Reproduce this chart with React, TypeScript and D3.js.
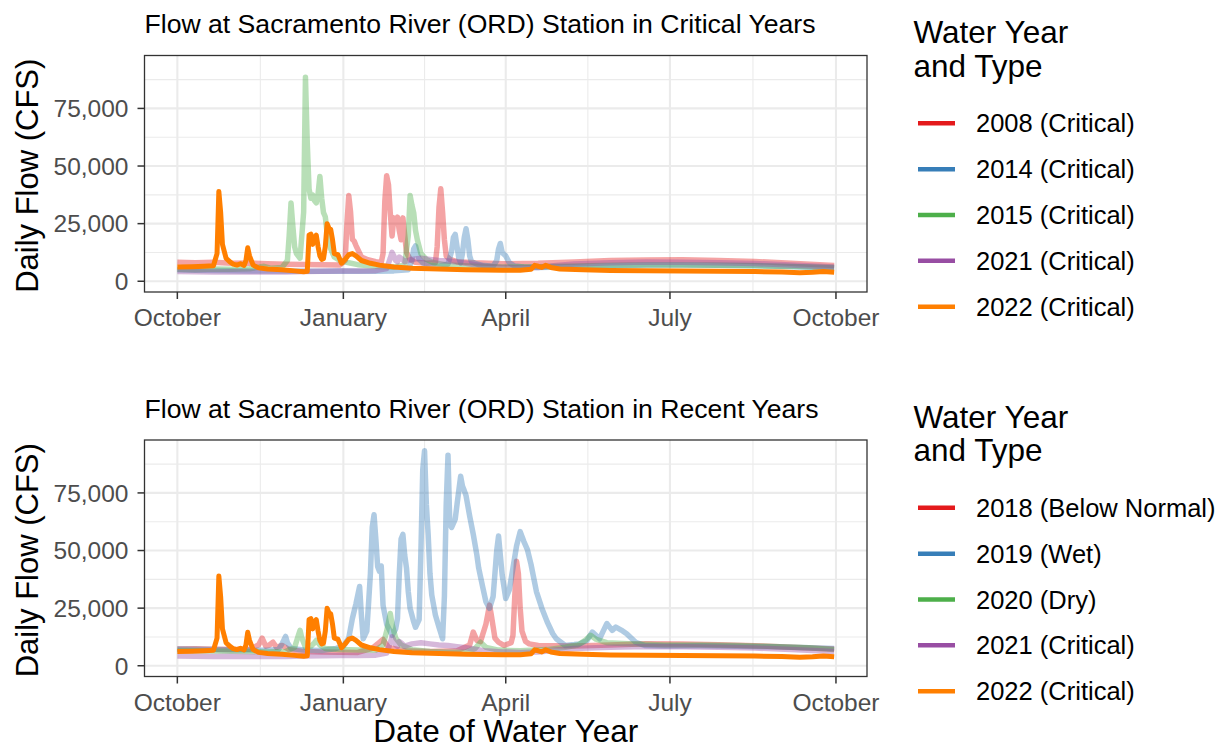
import React from 'react';
import * as d3 from 'd3';

type Pt = [number, number]; // [day of water year (0 = Oct 1), daily flow in CFS]

// ---------- data ----------
const FLOW_2008: Pt[] = [[0,8300],[10,8000],[20,8200],[30,7800],[40,7900],[50,7600],[60,7400],[70,7300],[80,7200],[90,7000],[93,9000],[94,25000],[95,37200],[96,30000],[97,18200],[98,17400],[99,15500],[100,13800],[102,10500],[105,9500],[110,8500],[113,8200],[114,12000],[115,35000],[116,45800],[117,42000],[118,29700],[119,19600],[120,27500],[121,26000],[122,27800],[123,22000],[124,18000],[125,27500],[126,20000],[127,12500],[129,9500],[132,8200],[138,7800],[143,8000],[144,15000],[145,32000],[146,40100],[147,30000],[148,18000],[149,11000],[151,9500],[155,8500],[165,8000],[180,7600],[200,7800],[220,8400],[240,9000],[260,9200],[280,9300],[300,9000],[320,8600],[340,7800],[364,6800]];
const FLOW_2014: Pt[] = [[0,5000],[10,4800],[20,4700],[30,4600],[40,4500],[50,4500],[60,4400],[70,4300],[80,4300],[90,4400],[100,4300],[110,4300],[120,4500],[128,5000],[130,9000],[131,14000],[132,15300],[133,12000],[134,9500],[136,8000],[140,7000],[145,6500],[150,7500],[152,13000],[153,19000],[154,20300],[155,15000],[156,10000],[157,8000],[158,12000],[159,19000],[160,22800],[161,18000],[162,11000],[163,8500],[166,7500],[170,6800],[175,6500],[177,9000],[178,14000],[179,16400],[180,12500],[181,11700],[182,11000],[184,8000],[187,6600],[192,6200],[200,6000],[220,6300],[240,6700],[260,7000],[280,7000],[300,6900],[320,6800],[340,6400],[364,5800]];
const FLOW_2015: Pt[] = [[0,5200],[10,5000],[20,5300],[30,5200],[40,5400],[48,6500],[52,5600],[58,6000],[61,9000],[62,20000],[63,34000],[64,24000],[65,15000],[66,12000],[68,10000],[70,30000],[71,88500],[72,60000],[73,40000],[74,36000],[75,37500],[76,35000],[77,34000],[78,38000],[79,45500],[80,36000],[81,29800],[82,28000],[83,21000],[85,14000],[87,10500],[90,9000],[95,8000],[100,7200],[110,6500],[120,6200],[126,7000],[128,20000],[129,37200],[130,33000],[131,29700],[132,22000],[133,18000],[135,12000],[138,9500],[142,8000],[150,7000],[165,6500],[180,6200],[200,6300],[220,6600],[240,6900],[260,7100],[280,7000],[300,6900],[320,6700],[340,6400],[364,6000]];
const FLOW_2018: Pt[] = [[0,7300],[10,7400],[20,7200],[30,7000],[40,7200],[45,9000],[47,12000],[49,8500],[51,9000],[53,10200],[55,8000],[58,8800],[62,7000],[70,6200],[80,6000],[90,5900],[100,5800],[108,7500],[111,9500],[114,11400],[117,8000],[125,6500],[140,6200],[155,6500],[162,9000],[164,14600],[166,11000],[168,10500],[171,18000],[173,26300],[174,22000],[176,12000],[178,10200],[181,8800],[185,10000],[186,13200],[187,30000],[188,45300],[189,40000],[190,25000],[191,15000],[193,10500],[195,9500],[200,8800],[220,8600],[240,9000],[260,9500],[280,9400],[300,9100],[320,8700],[340,8000],[364,7300]];
const FLOW_2019: Pt[] = [[0,7300],[10,7200],[20,7000],[30,6900],[40,6800],[50,6700],[56,7000],[58,9500],[60,12700],[61,10000],[63,7500],[70,6800],[80,6600],[88,7500],[92,8500],[95,12000],[97,20500],[99,27000],[101,34400],[102,22000],[103,11700],[105,15000],[107,40000],[108,60000],[109,65500],[110,55000],[111,43100],[112,41000],[113,43300],[114,26300],[116,18000],[119,13200],[121,16000],[122,20500],[123,40000],[124,55000],[125,57000],[126,48000],[127,42400],[128,32000],[129,24900],[131,19000],[132,16700],[134,20000],[135,50000],[136,85000],[137,93300],[138,70000],[139,57000],[140,40000],[141,30700],[143,22000],[145,16700],[147,11700],[148,30000],[149,70000],[150,91400],[151,61400],[152,60000],[154,63600],[155,70000],[157,82200],[158,78000],[159,76000],[160,73800],[162,65000],[164,57000],[166,48000],[167,42400],[169,35000],[171,27800],[173,24900],[175,30000],[177,50000],[178,56300],[180,39500],[182,29200],[184,33000],[186,42400],[188,52000],[190,58200],[192,54000],[194,50400],[196,44000],[199,32200],[202,25000],[205,19000],[208,14000],[210,11700],[215,8800],[220,9200],[223,9500],[227,11000],[230,14600],[234,11700],[236,15000],[238,18300],[241,15350],[243,16800],[246,15500],[249,13900],[254,10200],[259,8800],[270,8600],[290,8700],[310,8500],[330,8200],[350,7800],[364,7500]];
const FLOW_2020: Pt[] = [[0,6600],[10,6500],[20,6400],[30,6300],[40,6200],[50,6000],[60,6200],[65,8000],[67,13000],[68,15350],[69,12000],[71,8000],[74,8500],[76,10000],[77,11000],[79,9000],[82,7500],[90,7000],[100,6800],[110,6700],[114,9000],[116,15000],[118,22700],[119,18000],[121,12000],[124,9000],[130,7000],[140,6200],[150,5900],[160,6000],[165,7500],[168,10200],[171,8000],[178,6800],[190,6500],[205,7000],[215,8000],[222,9000],[226,11000],[229,13200],[232,11500],[238,10000],[250,9500],[270,9000],[290,9000],[310,8800],[330,8400],[350,7800],[364,7000]];
const FLOW_2021: Pt[] = [[0,4200],[10,4100],[20,4000],[30,4100],[40,4000],[50,4100],[60,4000],[70,4200],[80,4300],[90,4400],[100,4500],[110,4600],[116,5500],[118,10000],[119,12500],[120,11000],[121,9000],[122,8500],[123,10500],[124,10000],[126,8500],[130,9500],[135,10000],[140,9500],[145,9000],[150,8800],[155,8300],[160,7800],[165,7200],[170,6500],[180,6000],[190,5800],[200,6000],[210,6800],[220,7500],[240,8000],[260,8300],[280,8200],[300,8000],[320,7700],[340,7000],[364,6200]];
const FLOW_2022: Pt[] = [[0,6200],[8,6300],[15,6500],[20,6700],[22,12000],[23,39000],[24,30000],[25,16000],[27,10000],[29,8500],[31,7400],[33,7000],[35,7600],[37,6900],[38,9000],[39,14500],[40,11000],[42,7000],[45,5800],[50,5300],[58,5000],[65,4500],[70,4100],[72,4300],[73,20000],[74,20500],[75,16000],[76,19000],[77,20000],[78,15000],[79,11000],[80,9500],[81,9800],[82,15000],[83,25000],[84,23000],[85,22500],[86,18000],[87,12000],[89,11500],[91,7800],[93,9500],[95,11500],[97,12000],[99,11000],[102,9000],[107,7800],[112,7000],[120,6200],[130,5600],[140,5400],[150,5200],[160,5000],[170,4900],[180,4800],[190,4800],[196,5200],[198,6900],[200,6500],[202,6000],[204,6900],[207,6000],[212,5300],[225,5000],[240,4700],[260,4600],[280,4400],[300,4300],[320,4200],[335,4000],[345,3700],[352,3900],[358,4200],[364,3900]];

const FLOWS: Record<string, Pt[]> = {
  '2008': FLOW_2008, '2014': FLOW_2014, '2015': FLOW_2015, '2018': FLOW_2018,
  '2019': FLOW_2019, '2020': FLOW_2020, '2021': FLOW_2021, '2022': FLOW_2022,
};

const TOP_YEARS = ['2008', '2014', '2015', '2021', '2022'];
const TOP_LABELS = ['2008 (Critical)', '2014 (Critical)', '2015 (Critical)', '2021 (Critical)', '2022 (Critical)'];
const BOTTOM_YEARS = ['2018', '2019', '2020', '2021', '2022'];
const BOTTOM_LABELS = ['2018 (Below Normal)', '2019 (Wet)', '2020 (Dry)', '2021 (Critical)', '2022 (Critical)'];
const PALETTE = ['#E41A1C', '#377EB8', '#4DAF4A', '#984EA3', '#FF7F00'];
const HIGHLIGHT = '2022';

const X_TICK_DATES = ['2021-10-01', '2022-01-01', '2022-04-01', '2022-07-01', '2022-10-01'];
const X_TICK_LABELS = ['October', 'January', 'April', 'July', 'October'];
const Y_TICKS = [0, 25000, 50000, 75000];
const Y_LIMITS = [0, 93300];

const TOP_TITLE = 'Flow at Sacramento River (ORD) Station in Critical Years';
const BOTTOM_TITLE = 'Flow at Sacramento River (ORD) Station in Recent Years';

// ---------- layout ----------
const W = 1217, H = 748;
const L = 144.5, R = 867, T = 55.5, B = 292;
const SHIFT = 384.5;
const FONT = '"Liberation Sans", Arial, Helvetica, sans-serif';
const WY_START = Date.UTC(2021, 9, 1);
const dayToDate = (d: number) => new Date(WY_START + d * 864e5);

function Panel({ dy, title, years, labels }: { dy: number; title: string; years: string[]; labels: string[] }) {
  const d0 = +dayToDate(0), d1 = +dayToDate(364);
  const xpad = (d1 - d0) * 0.05;
  const x = d3.scaleUtc().domain([new Date(d0 - xpad), new Date(d1 + xpad)]).range([L, R]);
  const ypad = (Y_LIMITS[1] - Y_LIMITS[0]) * 0.05;
  const y = d3.scaleLinear().domain([Y_LIMITS[0] - ypad, Y_LIMITS[1] + ypad]).range([B, T]);
  const line = d3.line<Pt>().x(p => x(dayToDate(p[0]))).y(p => y(p[1]));
  const majorX = X_TICK_DATES.map(s => new Date(s + 'T00:00:00Z'));
  const minorX = d3.pairs(majorX).map(([a, b]) => new Date((+a + +b) / 2));
  const minorY = Y_TICKS.map(v => v + 12500).filter(v => v < y.domain()[1]);
  const fmt = d3.format(',');
  const order = years.filter(yr => yr !== HIGHLIGHT).concat(years.filter(yr => yr === HIGHLIGHT));
  const cy = (T + B) / 2;

  return (
    <g transform={`translate(0,${dy})`}>
      <text x={L} y={33} fontSize={26.6} fill="#000">{title}</text>
      <rect x={L} y={T} width={R - L} height={B - T} fill="#fff" />
      {minorY.map(v => <line key={'my' + v} x1={L} x2={R} y1={y(v)} y2={y(v)} stroke="#EBEBEB" strokeWidth={1.1} />)}
      {minorX.map(d => <line key={'mx' + +d} x1={x(d)} x2={x(d)} y1={T} y2={B} stroke="#EBEBEB" strokeWidth={1.1} />)}
      {Y_TICKS.map(v => <line key={'gy' + v} x1={L} x2={R} y1={y(v)} y2={y(v)} stroke="#EBEBEB" strokeWidth={2.1} />)}
      {majorX.map(d => <line key={'gx' + +d} x1={x(d)} x2={x(d)} y1={T} y2={B} stroke="#EBEBEB" strokeWidth={2.1} />)}
      {order.map(yr => {
        const i = years.indexOf(yr);
        const hi = yr === HIGHLIGHT;
        return (
          <path key={yr} d={line(FLOWS[yr]) || ''} fill="none" stroke={PALETTE[i]}
            strokeOpacity={hi ? 1 : 0.4} strokeWidth={hi ? 5 : 5.5}
            strokeLinejoin="round" strokeLinecap="butt" />
        );
      })}
      <rect x={L} y={T} width={R - L} height={B - T} fill="none" stroke="#333333" strokeWidth={1.3} />
      {Y_TICKS.map(v => (
        <g key={'ty' + v}>
          <line x1={L - 7} x2={L} y1={y(v)} y2={y(v)} stroke="#333333" strokeWidth={1.5} />
          <text x={L - 16} y={y(v) + 8.8} fontSize={24.5} fill="#4D4D4D" textAnchor="end">{fmt(v)}</text>
        </g>
      ))}
      {majorX.map((d, i) => (
        <g key={'tx' + i}>
          <line x1={x(d)} x2={x(d)} y1={B} y2={B + 7} stroke="#333333" strokeWidth={1.5} />
          <text x={x(d)} y={326} fontSize={24.5} fill="#4D4D4D" textAnchor="middle">{X_TICK_LABELS[i]}</text>
        </g>
      ))}
      <text transform={`translate(38,${cy + 2}) rotate(-90)`} fontSize={31} fill="#000" textAnchor="middle">Daily Flow (CFS)</text>
      <g>
        <text x={913.5} y={43.3} fontSize={31.5} fill="#000">Water Year</text>
        <text x={913.5} y={76.7} fontSize={31.5} fill="#000">and Type</text>
        {labels.map((lab, i) => {
          const iy = 123.3 + i * 45.85;
          return (
            <g key={lab}>
              <line x1={918} x2={955} y1={iy} y2={iy} stroke={PALETTE[i]} strokeWidth={4.5} />
              <text x={976} y={iy + 9.1} fontSize={25.5} fill="#000">{lab}</text>
            </g>
          );
        })}
      </g>
    </g>
  );
}

export default function App() {
  return (
    <svg width={W} height={H} viewBox={`0 0 ${W} ${H}`}
      style={{ position: 'absolute', left: 0, top: 0, background: '#fff', fontFamily: FONT }}>
      <rect x={0} y={0} width={W} height={H} fill="#fff" />
      <Panel dy={0} title={TOP_TITLE} years={TOP_YEARS} labels={TOP_LABELS} />
      <Panel dy={SHIFT} title={BOTTOM_TITLE} years={BOTTOM_YEARS} labels={BOTTOM_LABELS} />
      <text x={(L + R) / 2} y={742} fontSize={31.5} fill="#000" textAnchor="middle">Date of Water Year</text>
    </svg>
  );
}
